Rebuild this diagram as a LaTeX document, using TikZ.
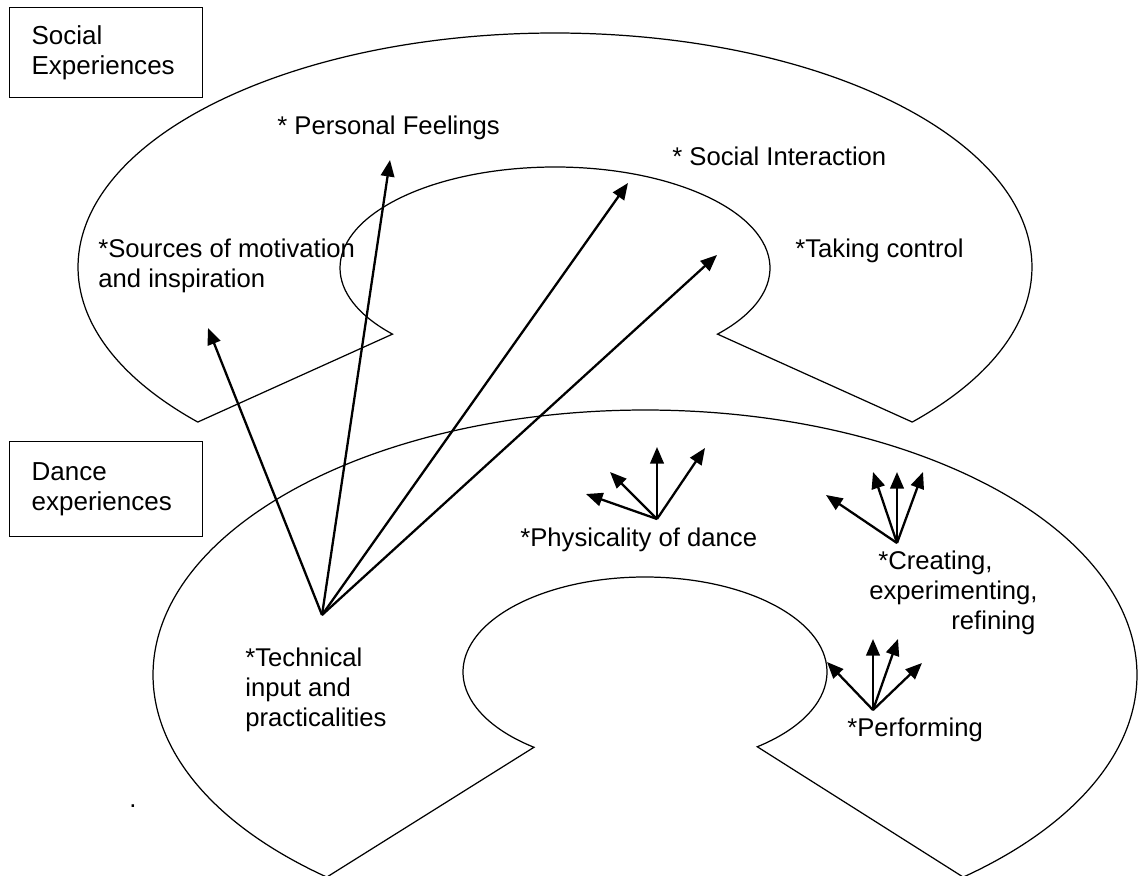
\documentclass[tikz,border=0pt]{standalone}
\usepackage{fontspec}
\setmainfont{Liberation Sans}
\usetikzlibrary{arrows.meta,calc}
\tikzset{
  blob/.style ={draw, line width=0.7pt},
  lbl/.style  ={anchor=north west, inner sep=0pt, align=left,
                font=\fontsize{14.6pt}{17pt}\selectfont},
  hdr/.style  ={draw, line width=0.7pt, anchor=north west, align=left,
                text width=29.8mm, inner xsep=4.4mm, minimum height=18mm,
                font=\fontsize{14.8pt}{17pt}\selectfont},
  arr/.style  ={-{Triangle[length=3.3mm, width=2.7mm]}, line width=1.3pt},
}

\begin{document}
\begin{tikzpicture}[x=0.2mm, y=0.2mm]
\useasboundingbox (0,0) rectangle (1139,-876);

% social experiences
\coordinate (socO) at (555,-267);
\coordinate (socI) at (555,-268);
\draw[blob] ($(socO)+(221.5:477 and 234)$)
  arc[start angle=221.5, end angle=-41.5, x radius=477, y radius=234]
  -- ($(socI)+(-40.9:215 and 101)$)
  arc[start angle=-40.9, end angle=220.9, x radius=215, y radius=101] -- cycle;

% dance experiences
\coordinate (danO) at (645,-675);
\coordinate (danI) at (645,-672);
\draw[blob] ($(danO)+(229.7:492 and 265)$)
  arc[start angle=229.7, end angle=-49.7, x radius=492, y radius=265]
  -- ($(danI)+(-51.9:182 and 95)$)
  arc[start angle=-51.9, end angle=232.4, x radius=182, y radius=95] -- cycle;

\node[hdr, minimum height=18mm] (socbox) at (9,-7) {Social\\Experiences};
\node[hdr, minimum height=19mm] (danbox) at (9,-441) {Dance\\experiences};

\node[lbl] (feel) at (277,-116) {* Personal Feelings};
\node[lbl] (motiv) at (98,-239) {*Sources of motivation\\and inspiration};
\node[lbl] (inter) at (672,-147) {* Social Interaction};
\node[lbl] (ctrl) at (795,-239) {*Taking control};
\node[lbl] (tech) at (245,-648) {*Technical\\input and\\practicalities};
\node[lbl] (phys) at (520,-528) {*Physicality of dance};
\node[lbl] (creat) at (869,-551)
  {\hspace*{1.8mm}*Creating,\\experimenting,\\\hspace*{16.4mm}refining};
\node[lbl] (perf) at (847,-718) {*Performing};
\node[lbl] (dot) at (129,-804) {.};

% technical input hub
\coordinate (hubT) at (322,-615);
\coordinate (toMotiv) at (208,-328);
\coordinate (toFeel) at (390,-160);
\coordinate (toInter) at (628,-183);
\coordinate (toCtrl) at (717,-255);
\draw[arr] (hubT) -- (toMotiv);
\draw[arr] (hubT) -- (toFeel);
\draw[arr] (hubT) -- (toInter);
\draw[arr] (hubT) -- (toCtrl);

% physicality
\coordinate (hubP) at (657,-519);
\coordinate (p1) at (586,-494);
\coordinate (p2) at (610,-472);
\coordinate (p3) at (657,-447);
\coordinate (p4) at (705,-448);
\draw[arr] (hubP) -- (p1);
\draw[arr] (hubP) -- (p2);
\draw[arr] (hubP) -- (p3);
\draw[arr] (hubP) -- (p4);

% creating
\coordinate (hubC) at (897,-543);
\coordinate (c1) at (826,-495);
\coordinate (c2) at (873,-472);
\coordinate (c3) at (897,-472);
\coordinate (c4) at (923,-472);
\draw[arr] (hubC) -- (c1);
\draw[arr] (hubC) -- (c2);
\draw[arr] (hubC) -- (c3);
\draw[arr] (hubC) -- (c4);

% performing
\coordinate (hubR) at (873,-710);
\coordinate (r1) at (827,-662);
\coordinate (r2) at (873,-639);
\coordinate (r3) at (898,-639);
\coordinate (r4) at (922,-663);
\draw[arr] (hubR) -- (r1);
\draw[arr] (hubR) -- (r2);
\draw[arr] (hubR) -- (r3);
\draw[arr] (hubR) -- (r4);

\end{tikzpicture}
\end{document}
